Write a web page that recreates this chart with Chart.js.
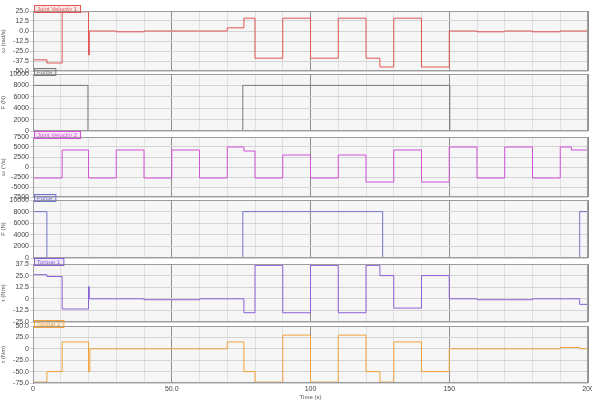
<!DOCTYPE html>
<html>
<head>
<meta charset="utf-8">
<script src="https://cdn.jsdelivr.net/npm/chart.js@4.4.0/dist/chart.umd.min.js"></script>
<style>
  body { margin: 0; background: #fff; }
  #wrap { position: relative; width: 592px; height: 401px; overflow: hidden; }
  canvas { position: absolute; left: 0; }
</style>
</head>
<body>
<div id="wrap"></div>
<script>
// time axis
const xTickLabels = ['0', '50.0', '100', '150', '200'];
const xTitle = 'Time (s)';

// panel 1 - red
const redTimes  = [0, 5, 10.5, 20, 20.3, 30, 40, 70, 76, 80, 90, 100, 110, 120, 125, 130, 140, 150, 160, 170, 180, 190, 200];
const redValues = [-36, -40, 24, -30, 0, -1, 0, 4, 16, -34, 16, -34, 16, -34, -45, 16, -45, 0, -1, 0, -1, 0, 0];
const p1Ticks = [-50, -37.5, -25, -12.5, 0, 12.5, 25];
const p1TickLabels = ['-50.0', '-37.5', '-25.0', '-12.5', '0.0', '12.5', '25.0'];

// panel 2 - gray
const grayTimes  = [0, 19.8, 75.6, 150.2, 200];
const grayValues = [8000, 0, 8000, 0, 0];
const p2Ticks = [0, 2000, 4000, 6000, 8000, 10000];
const p2TickLabels = ['0', '2000', '4000', '6000', '8000', '10000'];

// panel 3 - magenta
const magTimes  = [0, 10.5, 20, 30, 40, 50, 60, 70, 76, 80, 90, 100, 110, 120, 130, 140, 150, 160, 170, 180, 190, 194, 200];
const magValues = [-2750, 4250, -2750, 4250, -2750, 4250, -2750, 5000, 4000, -2750, 3000, -2750, 3000, -3750, 4250, -3750, 5000, -2750, 5000, -2750, 5000, 4250, 4250];
const p3Ticks = [-7500, -5000, -2500, 0, 2500, 5000, 7500];
const p3TickLabels = ['-7500', '-5000', '-2500', '0', '2500', '5000', '7500'];

// panel 4 - blue
const blueTimes  = [0, 5, 75.6, 126, 197, 200];
const blueValues = [8000, 0, 8000, 0, 8000, 8000];
const p4Ticks = [0, 2000, 4000, 6000, 8000, 10000];
const p4TickLabels = ['0', '2000', '4000', '6000', '8000', '10000'];

// panel 5 - purple
const purTimes  = [0, 5, 10.5, 20, 20.3, 40, 60, 76, 80, 90, 100, 110, 120, 125, 130, 140, 150, 160, 180, 197, 200];
const purValues = [26, 24, -11, 13, 0, -1, 0, -15, 36, -15, 36, -15, 36, 25, -10, 25, 0, -1, 0, -6, -6];
const p5Ticks = [-25, -12.5, 0, 12.5, 25, 37.5];
const p5TickLabels = ['-25.0', '-12.5', '0', '12.5', '25.0', '37.5'];

// panel 6 - orange
const oraTimes  = [0, 5, 10.5, 20, 20.5, 70, 76, 80, 90, 100, 110, 120, 125, 130, 140, 150, 190, 197, 200];
const oraValues = [-73, -50, 15, -50, 0, 15, -50, -73, 30, -73, 30, -50, -73, 15, -50, 0, 3, 0, 0];
const p6Ticks = [-75, -50, -25, 0, 25, 50];
const p6TickLabels = ['-75.0', '-50.0', '-25.0', '0', '25.0', '50.0'];

const panels = [
  { name: 'Joint Velocity 1', yTitle: 'ω (rad/s)', color: '#e25656', times: redTimes, values: redValues, ticks: p1Ticks, labels: p1TickLabels, top: 11, h: 60 },
  { name: 'Force', yTitle: 'F (N)', color: '#7a7a7a', times: grayTimes, values: grayValues, ticks: p2Ticks, labels: p2TickLabels, top: 74, h: 57 },
  { name: 'Joint Velocity 2', yTitle: 'ω (°/s)', color: '#d251d6', times: magTimes, values: magValues, ticks: p3Ticks, labels: p3TickLabels, top: 137, h: 60 },
  { name: 'Force', yTitle: 'F (N)', color: '#7474c8', times: blueTimes, values: blueValues, ticks: p4Ticks, labels: p4TickLabels, top: 200, h: 58 },
  { name: 'Torque 1', yTitle: 'τ (Nm)', color: '#8a62d8', times: purTimes, values: purValues, ticks: p5Ticks, labels: p5TickLabels, top: 264, h: 58 },
  { name: 'Torque 2', yTitle: 'τ (Nm)', color: '#f0a23c', times: oraTimes, values: oraValues, ticks: p6Ticks, labels: p6TickLabels, top: 326, h: 57 }
];

const FONT = 'Liberation Sans, Arial, sans-serif';

const panelPlugin = {
  id: 'panelBox',
  beforeDraw(chart) {
    const a = chart.chartArea, ctx = chart.ctx;
    ctx.save();
    ctx.fillStyle = '#f6f6f6';
    ctx.fillRect(a.left, a.top, a.right - a.left, a.bottom - a.top);
    ctx.restore();
  },
  afterDraw(chart, args, opts) {
    const a = chart.chartArea, ctx = chart.ctx;
    ctx.save();
    ctx.strokeStyle = '#9c9c9c';
    ctx.lineWidth = 1;
    ctx.strokeRect(a.left + 0.5, a.top + 0.5, a.right - a.left - 1, a.bottom - a.top - 1);
    // small legend tag at the top-left corner
    ctx.font = '6px ' + FONT;
    const w = ctx.measureText(opts.name).width + 6;
    ctx.globalAlpha = 0.15;
    ctx.fillStyle = opts.color;
    ctx.fillRect(a.left + 1, a.top - 6, w, 7);
    ctx.globalAlpha = 1;
    ctx.strokeStyle = opts.color;
    ctx.strokeRect(a.left + 1.5, a.top - 5.5, w, 7);
    ctx.fillStyle = opts.color;
    ctx.textBaseline = 'middle';
    ctx.fillText(opts.name, a.left + 4, a.top - 2);
    ctx.restore();
  }
};

const wrap = document.getElementById('wrap');
const pad = 6;

panels.forEach((p, i) => {
  const last = i === panels.length - 1;
  const c = document.createElement('canvas');
  const cTop = p.top - pad;
  const cH = last ? 401 - cTop : p.h + pad * 2;
  c.width = 604; // wider than the page so the "200" label doesn't squeeze the last panel
  c.height = cH;
  c.style.top = cTop + 'px';
  wrap.appendChild(c);

  new Chart(c, {
    type: 'line',
    data: {
      datasets: [{
        data: p.times.map((t, k) => ({ x: t, y: p.values[k] })),
        borderColor: p.color,
        borderWidth: 1,
        pointRadius: 0,
        stepped: true,
        fill: false
      }]
    },
    options: {
      responsive: false,
      animation: false,
      layout: { padding: { left: 0, right: 16, top: pad, bottom: last ? 0 : pad } },
      plugins: {
        legend: { display: false },
        tooltip: { enabled: false },
        panelBox: { name: p.name, color: p.color }
      },
      scales: {
        x: {
          type: 'linear',
          min: 0,
          max: 200,
          ticks: {
            display: last,
            stepSize: 10,
            autoSkip: false,
            maxRotation: 0,
            padding: 2,
            color: '#444',
            font: { size: 7, family: FONT },
            callback: v => (v % 50 === 0 ? xTickLabels[v / 50] : '')
          },
          grid: {
            drawTicks: false,
            color: ctx => (ctx.tick && ctx.tick.value % 50 === 0 ? '#8e8e8e' : '#e0e0e0')
          },
          border: { display: false },
          title: { display: last, text: xTitle, padding: 0, color: '#555', font: { size: 6, family: FONT } },
          afterFit: s => { s.height = last ? 18 : 0; }
        },
        y: {
          min: p.ticks[0],
          max: p.ticks[p.ticks.length - 1],
          afterBuildTicks: s => { s.ticks = p.ticks.map(v => ({ value: v })); },
          ticks: {
            autoSkip: false,
            padding: 1,
            color: '#444',
            font: { size: 7, family: FONT },
            callback: (v, k) => p.labels[k]
          },
          grid: { color: '#d4d4d4', tickLength: 3 },
          border: { color: '#9c9c9c' },
          title: { display: true, text: p.yTitle, padding: 0, color: '#555', font: { size: 6, family: FONT } },
          afterFit: s => { s.width = 33; }
        }
      }
    },
    plugins: [panelPlugin]
  });
});
</script>
</body>
</html>
